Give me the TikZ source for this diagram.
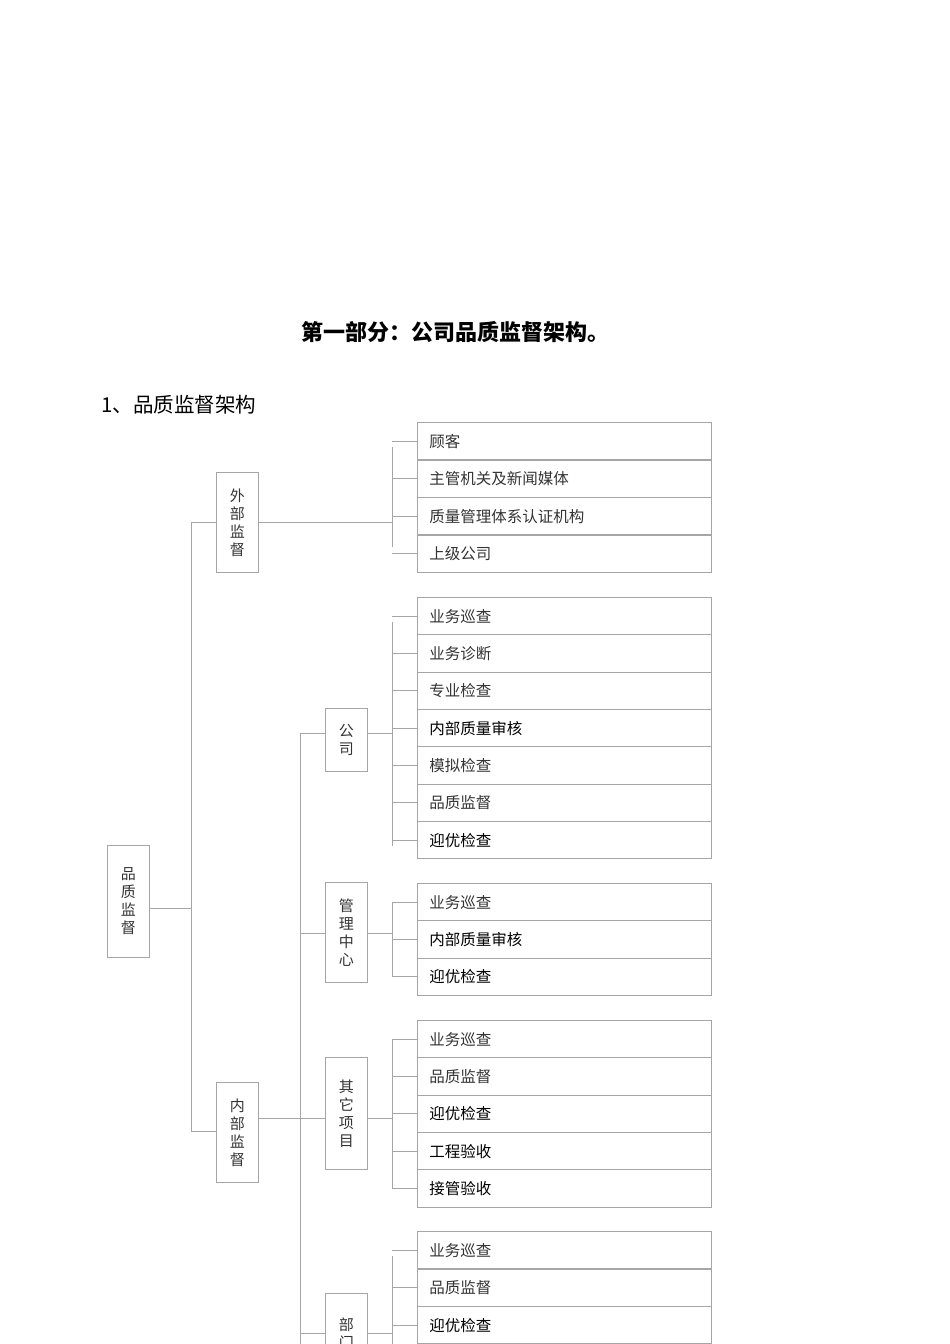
\documentclass[tikz,border=0pt]{standalone}
\usepackage{fontspec}
\newfontfamily\cjk{Noto Sans CJK SC}
\begin{document}
\begin{tikzpicture}[x=1pt,y=-1pt,
  ln/.style={draw=black!35,line width=0.8pt},
  leaf/.style={draw=black!35,line width=0.8pt,minimum width=294pt,minimum height=37.4pt,anchor=north west,inner sep=0pt,text width=288pt,align=left,font=\cjk\fontsize{15.5}{17}\selectfont,text=black!80},
  leafb/.style={leaf,text=black},
  mid/.style={draw=black!35,line width=0.8pt,minimum width=42pt,anchor=north west,inner sep=0pt,align=center,font=\cjk\fontsize{15}{18}\selectfont,text=black!80}]
\useasboundingbox (0,0) rectangle (950,1344);
\clip (0,0) rectangle (950,1344);
\node[font=\cjk\bfseries\fontsize{22}{24}\selectfont] (title) at (455,332) {第一部分：公司品质监督架构。};
\node[font=\cjk\fontsize{20.5}{24}\selectfont,anchor=west] (sub) at (98,405) {1、品质监督架构};
% leaves
\foreach \t/\y/\n/\s in {顾客/422/e1/leaf,主管机关及新闻媒体/459.5/e2/leaf,质量管理体系认证机构/497/e3/leaf,上级公司/534.5/e4/leaf,
  业务巡查/597/c1/leaf,业务诊断/634.3/c2/leaf,专业检查/671.6/c3/leaf,内部质量审核/709/c4/leafb,模拟检查/746.3/c5/leaf,品质监督/783.6/c6/leaf,迎优检查/821/c7/leafb,
  业务巡查/883/m1/leaf,内部质量审核/920.3/m2/leafb,迎优检查/957.6/m3/leafb,
  业务巡查/1020/o1/leaf,品质监督/1057.3/o2/leaf,迎优检查/1094.6/o3/leafb,工程验收/1132/o4/leafb,接管验收/1169.3/o5/leafb,
  业务巡查/1231/d1/leaf,品质监督/1268.5/d2/leaf,迎优检查/1306/d3/leafb}
  \node[\s] (\n) at (417,\y) {\hspace*{9pt}\t};
% mid boxes
\node[mid,minimum height=100pt] (ext) at (216,472) {外\\部\\监\\督};
\node[mid,minimum height=100pt] (int) at (216,1082) {内\\部\\监\\督};
\node[mid,minimum height=112pt] (root) at (107,845) {品\\质\\监\\督};
\node[mid,minimum height=63pt] (gs) at (325,708) {公\\司};
\node[mid,minimum height=100pt] (gl) at (325,882) {管\\理\\中\\心};
\node[mid,minimum height=112pt] (qt) at (325,1057) {其\\它\\项\\目};
\node[mid,minimum height=80pt] (bm) at (325,1293) {部\\门};
% connectors
\draw[ln] (root.east|-0,908) -- (191,908);
\draw[ln] (ext.west|-0,522) -- (191,522) -- (191,1131) -- (int.west|-0,1131);
\draw[ln] (int.east|-0,1118) -- (300,1118);
\draw[ln] (300,733) -- (300,1344);
\foreach \m/\yy in {gs/733,gl/933,qt/1118,bm/1333}{
  \draw[ln] (300,\yy) -- (\m.west|-0,\yy);
  \draw[ln] (\m.east|-0,\yy) -- (392,\yy);}
\draw[ln] (ext.east|-0,522) -- (392,522);
\draw[ln] (392,447) -- (392,547);
\foreach \n in {e1,e2,e3,e4} \draw[ln] (\n.west) -- ++(-25,0);
\draw[ln] (392,622) -- (392,846);
\foreach \n in {c1,c2,c3,c4,c5,c6,c7} \draw[ln] (\n.west) -- ++(-25,0);
\draw[ln] (392,902) -- (392,977);
\foreach \n in {m1,m2,m3} \draw[ln] (\n.west) -- ++(-25,0);
\draw[ln] (392,1039) -- (392,1188);
\foreach \n in {o1,o2,o3,o4,o5} \draw[ln] (\n.west) -- ++(-25,0);
\draw[ln] (392,1256) -- (392,1344);
\foreach \n in {d1,d2,d3} \draw[ln] (\n.west) -- ++(-25,0);
\end{tikzpicture}
\end{document}
